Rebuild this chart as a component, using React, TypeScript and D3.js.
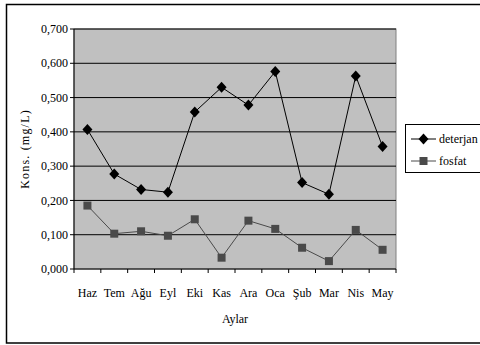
import React from "react";
import * as d3 from "d3";

const months = ["Haz", "Tem", "Ağu", "Eyl", "Eki", "Kas", "Ara", "Oca", "Şub", "Mar", "Nis", "May"];
const deterjan = [0.407, 0.277, 0.232, 0.224, 0.458, 0.530, 0.478, 0.576, 0.252, 0.218, 0.563, 0.357];
const fosfat = [0.185, 0.103, 0.110, 0.097, 0.145, 0.033, 0.141, 0.117, 0.062, 0.023, 0.114, 0.056];
const yTicks = [0, 0.1, 0.2, 0.3, 0.4, 0.5, 0.6, 0.7];

const W = 480, H = 345;
const L = 74, R = 396, T = 29, B = 269;
const font = "Liberation Serif";

export default function App() {
  const x = d3.scaleBand<string>().domain(months).range([L, R]);
  const y = d3.scaleLinear().domain([0, 0.7]).range([B, T]);
  const cx = (m: string) => (x(m) as number) + x.bandwidth() / 2;
  const line = d3.line<[string, number]>().x(d => cx(d[0])).y(d => y(d[1]));
  const dData = months.map((m, i) => [m, deterjan[i]] as [string, number]);
  const fData = months.map((m, i) => [m, fosfat[i]] as [string, number]);
  const fmt = (v: number) => v.toFixed(3).replace(".", ",");
  const diamond = "M0,-5.5L5,0L0,5.5L-5,0Z";
  const fColor = "#4a4a4a";
  const boundaries = months.map(m => x(m) as number).concat([R]);
  const ts: React.CSSProperties = { fontFamily: "'Liberation Serif', 'Times New Roman', Times, serif", fontSize: 12 };

  return (
    <svg width={W} height={H} style={{ position: "absolute", left: 0, top: 0 }}>
      <rect x={0} y={0} width={W} height={H} fill="#fff" />
      <rect x={6.5} y={4.5} width={W + 10} height={338.5} fill="#fff" stroke="#000" strokeWidth={1.5} />
      <rect x={L} y={T} width={R - L} height={B - T} fill="#c0c0c0" stroke="#808080" strokeWidth={1} />
      {yTicks.slice(1).map(t => (
        <line key={t} x1={L} x2={R} y1={y(t)} y2={y(t)} stroke="#000" strokeWidth={1} />
      ))}
      <line x1={L} x2={L} y1={T} y2={B} stroke="#000" />
      <line x1={L} x2={R} y1={B} y2={B} stroke="#000" />
      {yTicks.map(t => (
        <g key={"yt" + t}>
          <line x1={L - 4} x2={L} y1={y(t)} y2={y(t)} stroke="#000" />
          <text x={L - 6} y={y(t)} dy="0.35em" textAnchor="end" style={ts}>{fmt(t)}</text>
        </g>
      ))}
      {boundaries.map((b, i) => (
        <line key={"xt" + i} x1={b} x2={b} y1={B} y2={B + 4} stroke="#000" />
      ))}
      {months.map(m => (
        <text key={"xl" + m} x={cx(m)} y={297} textAnchor="middle" style={ts}>{m}</text>
      ))}
      <text x={(L + R) / 2} y={323} textAnchor="middle" style={ts}>Aylar</text>
      <text transform={`translate(29,${(T + B) / 2}) rotate(-90)`} textAnchor="middle" style={{ ...ts, letterSpacing: 1.2 }}>Kons. (mg/L)</text>
      <path d={line(fData) as string} fill="none" stroke={fColor} strokeWidth={1} />
      {fData.map(d => (
        <rect key={"f" + d[0]} x={cx(d[0]) - 4} y={y(d[1]) - 4} width={8} height={8} fill={fColor} />
      ))}
      <path d={line(dData) as string} fill="none" stroke="#000" strokeWidth={1} />
      {dData.map(d => (
        <path key={"d" + d[0]} d={diamond} transform={`translate(${cx(d[0])},${y(d[1])})`} fill="#000" />
      ))}
      <rect x={405.5} y={124.5} width={90} height={48} fill="#fff" stroke="#000" strokeWidth={1} />
      <line x1={411} x2={436} y1={139} y2={139} stroke="#000" />
      <path d={diamond} transform="translate(423.5,139)" fill="#000" />
      <text x={439} y={139} dy="0.35em" style={ts}>deterjan</text>
      <line x1={411} x2={436} y1={161} y2={161} stroke={fColor} />
      <rect x={419.5} y={157} width={8} height={8} fill={fColor} />
      <text x={439} y={161} dy="0.35em" style={ts}>fosfat</text>
    </svg>
  );
}
